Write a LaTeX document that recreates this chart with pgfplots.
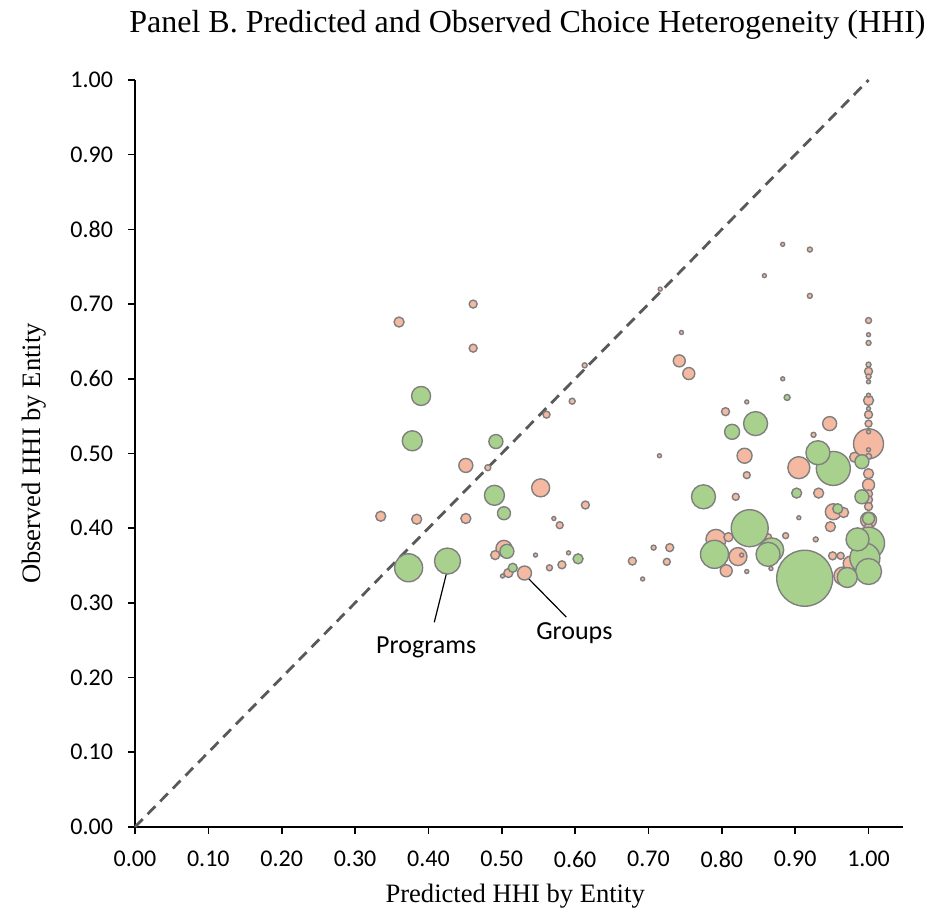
\documentclass[border=0pt]{standalone}
\usepackage{fontspec}
\setmainfont{Liberation Serif}
\newfontfamily\calibri{Carlito}
\usepackage{pgfplots}
\usepackage{pgfplotstable}
\pgfplotsset{compat=1.18}
\definecolor{salmonc}{HTML}{F4B9A0}
\definecolor{greenc}{HTML}{A9D18E}
\definecolor{edgec}{HTML}{7F7F7F}
\definecolor{diagc}{HTML}{595959}

\pgfplotstableread{
x y r
1.000 0.513 15
0.905 0.481 11
0.792 0.385 10
0.553 0.454 9
0.822 0.362 9
0.965 0.336 9
0.503 0.373 8
0.952 0.422 8
1.000 0.411 8
0.831 0.497 7.5
0.451 0.484 7
0.531 0.340 7
0.947 0.540 7
0.975 0.353 7
0.742 0.624 6
0.755 0.607 6
0.806 0.343 6
1.000 0.458 6
0.360 0.676 5
0.335 0.416 5
0.384 0.412 5
0.451 0.413 5
0.981 0.495 5
0.932 0.447 5
0.966 0.421 5
0.948 0.402 5
1.000 0.571 5
1.000 0.473 5
1.000 0.395 5
0.491 0.364 4.5
0.509 0.340 4.5
0.809 0.388 4.5
0.461 0.700 4
0.461 0.641 4
0.614 0.431 4
0.582 0.351 4
0.678 0.356 4
0.729 0.374 4
0.805 0.556 4
0.951 0.363 4
1.000 0.610 4
1.000 0.552 4
1.000 0.446 4
1.000 0.438 4
1.000 0.429 4
1.000 0.402 4
0.561 0.552 3.5
0.579 0.404 3.5
0.725 0.355 3.5
0.834 0.471 3.5
0.819 0.442 3.5
0.863 0.388 3.5
0.962 0.363 3.5
1.000 0.540 3.5
0.596 0.570 3
0.481 0.481 3
0.565 0.347 3
0.887 0.390 3
1.000 0.678 3
1.000 0.496 3
0.613 0.618 2.5
0.707 0.374 2.5
0.920 0.773 2.5
0.920 0.711 2.5
0.925 0.525 2.5
0.928 0.385 2.5
1.000 0.648 2.5
1.000 0.619 2.5
1.000 0.603 2.5
0.571 0.413 2
0.546 0.364 2
0.591 0.367 2
0.501 0.336 2
0.692 0.332 2
0.716 0.720 2
0.883 0.780 2
0.858 0.738 2
0.745 0.662 2
0.883 0.600 2
0.834 0.569 2
0.715 0.497 2
0.905 0.414 2
0.827 0.364 2
0.834 0.342 2
0.867 0.346 2
1.000 0.659 2
1.000 0.596 2
1.000 0.578 2
1.000 0.560 2
1.000 0.529 2
1.000 0.505 2
}\groups

\pgfplotstableread{
x y r
0.913 0.333 28
0.838 0.400 18.5
0.952 0.480 17
1.000 0.380 16
0.995 0.360 15
0.373 0.347 14
0.790 0.365 14
0.426 0.356 13
1.000 0.342 13
0.846 0.540 12
0.931 0.501 12
0.775 0.442 12
0.868 0.371 12
0.863 0.365 12
0.985 0.385 11.5
0.971 0.334 10
0.378 0.517 10
0.490 0.444 10
0.390 0.577 9.5
0.814 0.529 7.5
0.492 0.516 7
0.507 0.369 7
0.991 0.489 7
0.991 0.442 7
0.503 0.420 6.5
1.000 0.413 6
0.902 0.447 5
0.958 0.426 5
0.604 0.359 5
0.515 0.347 4.5
0.889 0.575 3
}\programs

\begin{document}
\begin{tikzpicture}
\begin{axis}[
  at={(0,0)}, anchor=south west,
  width=384pt, height=373.5pt, scale only axis,
  xmin=0, xmax=1.047, ymin=0, ymax=1,
  axis lines=left,
  axis line style={-, line width=0.8pt, black},
  xtick={0,0.1,0.2,0.3,0.4,0.5,0.6,0.7,0.8,0.9,1.0},
  ytick={0,0.1,0.2,0.3,0.4,0.5,0.6,0.7,0.8,0.9,1.0},
  tick align=outside,
  major tick length=3.5pt,
  tick style={black, line width=0.8pt},
  /pgf/number format/.cd, fixed, fixed zerofill, precision=2, assume math mode=true,
  /pgfplots/.cd,
  ticklabel style={font=\calibri\fontsize{12}{14}\selectfont},
  xticklabel style={yshift=-5pt},
  yticklabel style={xshift=-4pt},
  title={Panel B. Predicted and Observed Choice Heterogeneity (HHI)},
  title style={font=\fontsize{16}{18}\selectfont, at={(axis description cs:0.511,1.047)}, anchor=base},
  xlabel={Predicted HHI by Entity},
  xlabel style={font=\fontsize{13.3}{15}\selectfont, at={(axis description cs:0.495,-0.1004)}, anchor=base},
  ylabel={Observed HHI by Entity},
  ylabel style={font=\fontsize{13.3}{15}\selectfont, at={(axis description cs:-0.1315,0.5)}, anchor=center},
  clip=false,
]
\addplot[diagc, line width=1.4pt, dash pattern=on 5.5pt off 3.5pt] coordinates {(0,0) (1,1)};
\addplot[scatter, only marks, mark=*, line width=0.7pt,
  scatter/use mapped color={draw=edgec, fill=salmonc},
  visualization depends on={\thisrow{r}/2 \as \rr},
  scatter/@pre marker code/.append style={/tikz/mark size=\rr pt}]
  table[x=x, y=y] {\groups};
\addplot[scatter, only marks, mark=*, line width=0.7pt,
  scatter/use mapped color={draw=edgec, fill=greenc},
  visualization depends on={\thisrow{r}/2 \as \rr},
  scatter/@pre marker code/.append style={/tikz/mark size=\rr pt}]
  table[x=x, y=y] {\programs};
\draw[black, line width=0.6pt] (axis cs:0.426,0.345) -- (axis cs:0.408,0.274);
\node[font=\calibri\fontsize{13}{15}\selectfont] at (axis cs:0.397,0.240) {Programs};
\draw[black, line width=0.6pt] (axis cs:0.533,0.336) -- (axis cs:0.588,0.281);
\node[font=\calibri\fontsize{13}{15}\selectfont] at (axis cs:0.599,0.260) {Groups};
\end{axis}
\pgfresetboundingbox
\path[use as bounding box] (-67.5pt,-43pt) rectangle (397pt,413.5pt);
\end{tikzpicture}
\end{document}
